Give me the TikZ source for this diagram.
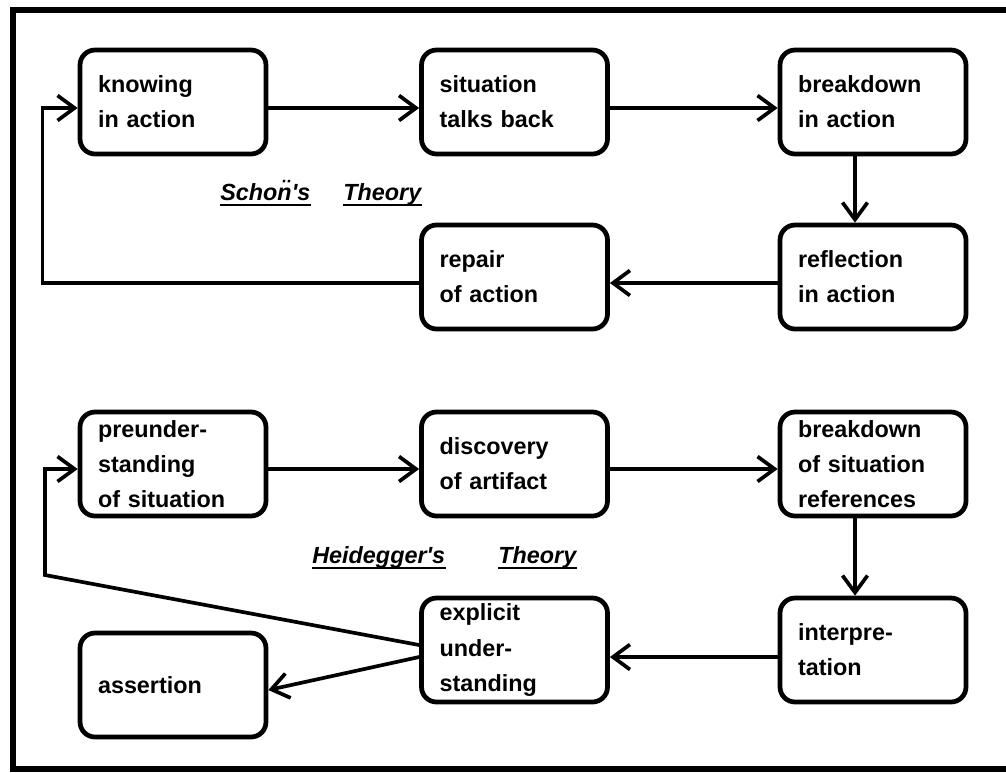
\documentclass[tikz,border=0pt]{standalone}
\usepackage{fontspec}
\setmainfont{Liberation Sans}
\usetikzlibrary{arrows.meta}

\tikzset{
  box/.style={draw, line width=2.7pt, rounded corners=0.3cm,
    minimum width=3.72cm, minimum height=2.08cm, text width=3cm,
    inner xsep=0.36cm, align=left,
    font=\fontsize{13.3}{20}\selectfont\bfseries},
  conn/.style={line width=2.1pt, -{Straight Barb[length=0.34cm,width=0.5cm]}},
  title/.style={inner sep=0pt, anchor=base west,
    font=\fontsize{13.3}{16}\selectfont\bfseries\itshape},
  uline/.style={line width=1.5pt}
}

\begin{document}
\begin{tikzpicture}[x=0.02cm, y=-0.02cm]
	\useasboundingbox (0,0) rectangle (1006,772);
	\draw[line width=3.4pt] (13,10) rectangle (1014,769);
	% Schoen
	\node[box] (know) at (173,102) {knowing\\in action};
	\node[box] (talk) at (514.5,102) {situation\\talks back};
	\node[box] (brk) at (873,102) {breakdown\\in action};
	\node[box] (refl) at (873,277) {reflection\\in action};
	\node[box] (repair) at (514.5,277) {repair\\of action};
	\draw[conn] ([yshift=-0.12cm]know.east) -- ([yshift=-0.12cm]talk.west);
	\draw[conn] ([yshift=-0.12cm]talk.east) -- ([yshift=-0.12cm]brk.west);
	\draw[conn] ([xshift=-0.36cm]brk.south) -- ([xshift=-0.36cm]refl.north);
	\draw[conn] ([yshift=-0.12cm]refl.west) -- ([yshift=-0.12cm]repair.east);
	\draw[conn] ([yshift=-0.12cm]repair.west) -| ([xshift=-0.7cm,yshift=-0.12cm]know.west) -- ([yshift=-0.12cm]know.west);
	\node[title] (schon) at (220,200) {Scho\"{n}\textquotesingle s};
	\node[title] (theo1) at (343,200) {Theory};
	\draw[uline] ([yshift=-0.1cm]schon.base west) -- ([yshift=-0.1cm]schon.base east);
	\draw[uline] ([yshift=-0.1cm]theo1.base west) -- ([yshift=-0.1cm]theo1.base east);
	% Heidegger
	\node[box] (pre) at (173,464) {preunder-\\standing\\of situation};
	\node[box] (disc) at (514.5,464) {discovery\\of artifact};
	\node[box] (brks) at (873,464) {breakdown\\of situation\\references};
	\node[box] (interp) at (873,650) {interpre-\\tation};
	\node[box] (expl) at (514.5,650) {explicit\\under-\\standing};
	\node[box] (assert) at (173,685) {assertion};
	\coordinate (hbend) at (45,575);
	\draw[conn] ([yshift=-0.1cm]pre.east) -- ([yshift=-0.1cm]disc.west);
	\draw[conn] ([yshift=-0.1cm]disc.east) -- ([yshift=-0.1cm]brks.west);
	\draw[conn] ([xshift=-0.36cm]brks.south) -- ([xshift=-0.36cm]interp.north);
	\draw[conn] ([yshift=-0.14cm]interp.west) -- ([yshift=-0.14cm]expl.east);
	\draw[conn] ([yshift=0.1cm]expl.west) -- (hbend) |- ([yshift=-0.1cm]pre.west);
	\draw[conn] ([yshift=-0.14cm]expl.west) -- ([yshift=-0.1cm]assert.east);
	\node[title] (heid) at (312,563) {Heidegger\textquotesingle s};
	\node[title] (theo2) at (498,563) {Theory};
	\draw[uline] ([yshift=-0.1cm]heid.base west) -- ([yshift=-0.1cm]heid.base east);
	\draw[uline] ([yshift=-0.1cm]theo2.base west) -- ([yshift=-0.1cm]theo2.base east);
\end{tikzpicture}
\end{document}
